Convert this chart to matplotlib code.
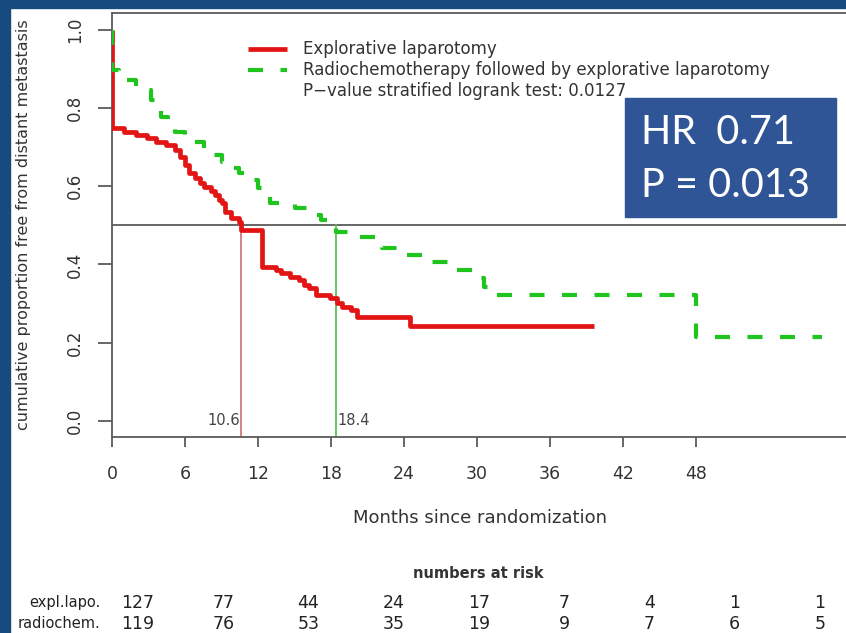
import numpy as np
import matplotlib
matplotlib.use('Agg')
import matplotlib.pyplot as plt
from matplotlib.patches import Rectangle

plt.rcParams['font.family'] = ['DejaVu Sans']

# Kaplan-Meier steps: event time (months) and survival after the step
expl_t = [0, 0, 1.0, 2.0, 2.9, 3.6, 4.4, 5.2, 5.6, 6.0, 6.3, 6.8, 7.2, 7.6, 8.1, 8.5,
          8.8, 9.0, 9.3, 9.8, 10.4, 10.6, 12.3, 13.5, 13.9, 14.6, 15.4, 15.8, 16.2,
          16.8, 17.9, 18.5, 18.9, 19.6, 20.1, 24.5, 39.6]
expl_s = [1.0, 0.748, 0.740, 0.731, 0.723, 0.714, 0.706, 0.693, 0.676, 0.655, 0.633,
          0.620, 0.608, 0.599, 0.587, 0.578, 0.565, 0.556, 0.535, 0.518, 0.509, 0.488,
          0.394, 0.386, 0.378, 0.369, 0.360, 0.348, 0.339, 0.322, 0.313, 0.300, 0.292,
          0.283, 0.266, 0.242, 0.242]

rct_t = [0, 0, 0.6, 0.9, 2.0, 2.8, 3.2, 3.5, 4.0, 4.6, 5.2, 6.0, 6.8, 7.6, 8.2, 9.0,
         9.7, 10.4, 11.2, 12.0, 12.6, 13.0, 15.0, 16.6, 17.2, 18.1, 18.4, 20.4, 21.8,
         22.2, 23.9, 26.1, 27.8, 30.0, 30.6, 30.9, 48.0, 58.3]
rct_s = [1.0, 0.897, 0.880, 0.872, 0.855, 0.846, 0.820, 0.795, 0.778, 0.752, 0.740,
         0.727, 0.714, 0.697, 0.680, 0.663, 0.646, 0.633, 0.616, 0.595, 0.578, 0.556,
         0.544, 0.527, 0.514, 0.500, 0.484, 0.471, 0.458, 0.441, 0.424, 0.407, 0.386,
         0.364, 0.343, 0.322, 0.215, 0.215]

median_expl = 10.6
median_rct = 18.4

risk_months = [0, 6, 12, 18, 24, 30, 36, 42, 48]
risk_expl = [127, 77, 44, 24, 17, 7, 4, 1, 1]
risk_rct = [119, 76, 53, 35, 19, 9, 7, 6, 5]

W, H = 846, 633
fig = plt.figure(figsize=(W / 100, H / 100), dpi=100, facecolor='white')

# dark blue slide frame
frame = '#174a7f'
fig.patches.append(Rectangle((0, 0), 10 / W, 1, transform=fig.transFigure, color=frame, zorder=0))
fig.patches.append(Rectangle((0, 1 - 8 / H), 1, 8 / H, transform=fig.transFigure, color=frame, zorder=0))

gray = '#5a5a5a'
txtc = '#333333'
ax = fig.add_axes([112 / W, (H - 437) / H, (W - 112) / W, (437 - 13) / H])
ax.set_xlim(0, (W - 112) / 12.17)
ax.set_ylim(-0.0417, 1.0435)
for side in ['left', 'bottom', 'top']:
    ax.spines[side].set_color(gray)
    ax.spines[side].set_linewidth(1.3)
ax.spines['right'].set_visible(False)

ax.set_xticks(risk_months)
ax.set_yticks([0.0, 0.2, 0.4, 0.6, 0.8, 1.0])
ax.set_yticklabels(['0.0', '0.2', '0.4', '0.6', '0.8', '1.0'], rotation=90, va='center')
ax.tick_params(axis='y', length=10, width=1.3, color=gray, pad=10, labelsize=12, labelcolor=txtc)
ax.tick_params(axis='x', length=7, width=1.3, color=gray, pad=13, labelsize=12.5, labelcolor=txtc)
ax.set_ylabel('cumulative proportion free from distant metastasis', fontsize=11.5,
              color=txtc, labelpad=25)

ax.axhline(0.5, color=gray, lw=1.3, zorder=1)
ax.plot([median_expl, median_expl], [-0.0417, 0.5], color='#d27a7a', lw=1.3, zorder=1)
ax.plot([median_rct, median_rct], [-0.0417, 0.5], color='#5cc25c', lw=1.3, zorder=1)
ax.text(median_expl - 0.1, 0.0, '%.1f' % median_expl, ha='right', va='center', fontsize=10.5, color='#444444')
ax.text(median_rct + 0.15, 0.0, '%.1f' % median_rct, ha='left', va='center', fontsize=10.5, color='#444444')

ax.plot(expl_t, expl_s, drawstyle='steps-post', color='#e31414', lw=3.4,
        solid_capstyle='butt', zorder=3)
ax.plot(rct_t, rct_s, drawstyle='steps-post', color='#1fc41f', lw=3.0,
        dashes=(3.6, 4.2), zorder=3)

# legend drawn by hand, R style
lx0, lx1 = (248 - 112) / 12.17, (287 - 112) / 12.17
ax.plot([lx0, lx1], [0.952, 0.952], color='#e31414', lw=3.4, solid_capstyle='butt')
ax.plot([lx0, lx1], [0.897, 0.897], color='#1fc41f', lw=3.0, dashes=(3.6, 4.2))
tx = (303 - 112) / 12.17
ax.text(tx, 0.952, 'Explorative laparotomy', va='center', fontsize=12, color=txtc)
ax.text(tx, 0.897, 'Radiochemotherapy followed by explorative laparotomy', va='center',
        fontsize=12, color=txtc)
ax.text(tx, 0.844, 'P\u2212value stratified logrank test: 0.0127', va='center',
        fontsize=12, color=txtc)

# HR box
fig.patches.append(Rectangle((625 / W, 1 - 217 / H), (836 - 625) / W, (217 - 98) / H,
                             transform=fig.transFigure, color='#2f5597', zorder=5))
fig.text(641 / W, 1 - 133 / H, 'HR  0.71', color='white', fontsize=28.5, family='Lato',
         va='center', ha='left', zorder=6)
fig.text(641 / W, 1 - 186 / H, 'P = 0.013', color='white', fontsize=28.5, family='Lato',
         va='center', ha='left', zorder=6)

fig.text(480 / W, 1 - 518 / H, 'Months since randomization', ha='center', va='center',
         fontsize=13, color=txtc)

# numbers at risk table
axr = fig.add_axes([112 / W, 0, (W - 112) / W, (H - 560) / H])
axr.axis('off')
px = 682 / 48
axr.set_xlim(-26 / px, -26 / px + (W - 112) / px)
axr.set_ylim(0, H - 560)
fig.text(478 / W, 1 - 574 / H, 'numbers at risk', ha='center', va='center', fontsize=10.5,
         weight='bold', color=txtc)
for i, m in enumerate(risk_months):
    axr.text(m, H - 603, str(risk_expl[i]), ha='center', va='center', fontsize=12.5,
             color='#222222')
    axr.text(m, H - 624, str(risk_rct[i]), ha='center', va='center', fontsize=12.5,
             color='#222222')
axr.text(-38 / px, H - 603, 'expl.lapo.', ha='right', va='center', fontsize=10.5,
         color='#222222')
axr.text(-38 / px, H - 624, 'radiochem.', ha='right', va='center', fontsize=10.5,
         color='#222222')

fig.savefig('out.png', dpi=100, facecolor='white')
